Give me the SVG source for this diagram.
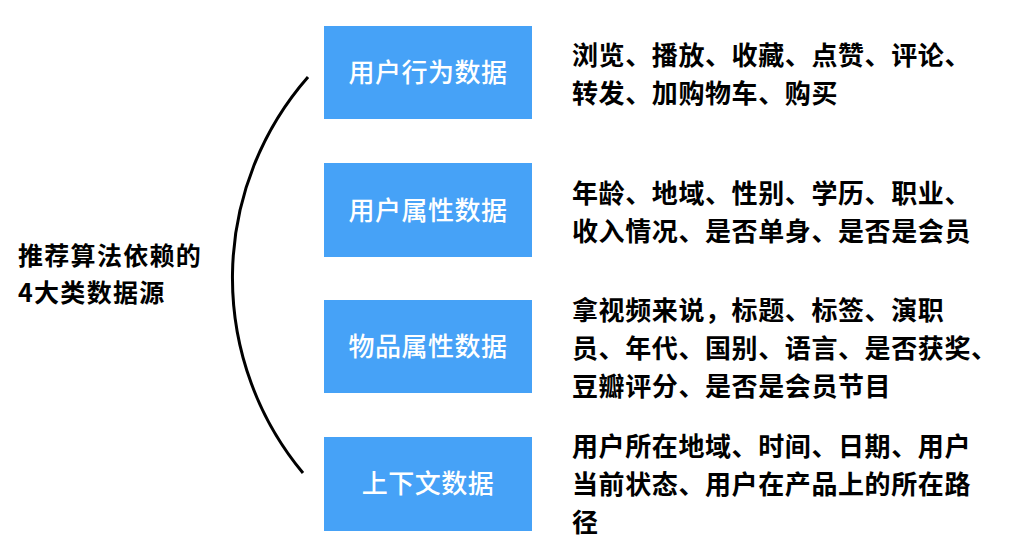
<svg xmlns="http://www.w3.org/2000/svg" width="1010" height="550" viewBox="0 0 1010 550">
<style>
.box{fill:#46a2f7}
.bt{font-family:"Noto Sans CJK SC","Noto Sans",sans-serif;font-size:26px;font-weight:500;fill:#ffffff;text-anchor:middle;letter-spacing:0.5px}
.dt{font-family:"Noto Sans CJK SC","Noto Sans",sans-serif;font-size:26px;font-weight:700;fill:#000000;letter-spacing:0.6px}
.lt{font-family:"Noto Sans CJK SC","Noto Sans",sans-serif;font-size:25px;font-weight:700;fill:#000000;letter-spacing:1.3px}
.arc{fill:none;stroke:#000000;stroke-width:3}
</style>
<rect width="1010" height="550" fill="#ffffff"/>
<g id="connectors">
<path class="arc" d="M308,77 A305,305 0 0,0 303,473"/>
</g>
<g id="root">
<text class="lt" x="18" y="265">推荐算法依赖的</text>
<text class="lt" x="18" y="302">4大类数据源</text>
</g>
<g id="node-behavior">
<rect class="box" x="324" y="26" width="208" height="93"/>
<text class="bt" x="428" y="82">用户行为数据</text>
<text class="dt" x="572" y="65">浏览、播放、收藏、点赞、评论、</text>
<text class="dt" x="572" y="103">转发、加购物车、购买</text>
</g>
<g id="node-user-attr">
<rect class="box" x="324" y="163" width="208" height="94"/>
<text class="bt" x="428" y="220">用户属性数据</text>
<text class="dt" x="572" y="203">年龄、地域、性别、学历、职业、</text>
<text class="dt" x="572" y="241">收入情况、是否单身、是否是会员</text>
</g>
<g id="node-item-attr">
<rect class="box" x="324" y="300" width="208" height="93"/>
<text class="bt" x="428" y="356">物品属性数据</text>
<text class="dt" x="572" y="320">拿视频来说，标题、标签、演职</text>
<text class="dt" x="572" y="358">员、年代、国别、语言、是否获奖、</text>
<text class="dt" x="572" y="396">豆瓣评分、是否是会员节目</text>
</g>
<g id="node-context">
<rect class="box" x="324" y="437" width="208" height="94"/>
<text class="bt" x="428" y="493">上下文数据</text>
<text class="dt" x="572" y="456">用户所在地域、时间、日期、用户</text>
<text class="dt" x="572" y="494">当前状态、用户在产品上的所在路</text>
<text class="dt" x="572" y="532">径</text>
</g>
</svg>
